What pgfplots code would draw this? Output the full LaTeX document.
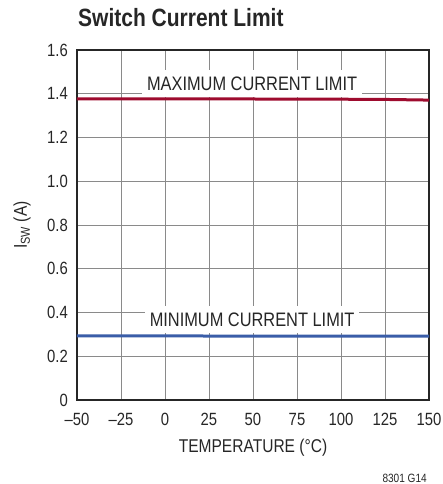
\documentclass[border=0pt]{standalone}
\usepackage{pgfplots}
\pgfplotsset{compat=1.18}
\usepackage{fontspec}
\setmainfont{Liberation Sans}[FakeStretch=0.84]
\definecolor{maxred}{HTML}{9E0B2E}
\definecolor{minblue}{HTML}{3A5DA8}
\definecolor{gridgray}{HTML}{8A8A8A}
\begin{document}
\begin{tikzpicture}[x=1pt,y=1pt]
\begin{axis}[
  at={(0pt,0pt)}, anchor=south west,
  scale only axis, width=352pt, height=350pt,
  xmin=-50, xmax=150, ymin=0, ymax=1.6,
  xtick={-50,-25,0,25,50,75,100,125,150},
  xticklabels={–50,–25,0,25,50,75,100,125,150},
  ytick={0,0.2,0.4,0.6,0.8,1.0,1.2,1.4,1.6},
  yticklabels={0,0.2,0.4,0.6,0.8,1.0,1.2,1.4,1.6},
  major tick length=0pt,
  grid=major,
  major grid style={draw=gridgray, line width=0.9pt},
  axis line style={draw=black!85, line width=1.4pt},
  tick label style={font=\fontsize{17.7}{20}\selectfont, text=black!85},
  xticklabel style={anchor=base, inner sep=0pt, yshift=-25pt},
  yticklabel style={anchor=east, inner sep=0pt, xshift=-9pt},
  xlabel={TEMPERATURE (°C)},
  ylabel={I\textsubscript{SW} (A)},
  label style={font=\fontsize{18.5}{20}\selectfont, text=black!85},
  xlabel style={at={(axis description cs:0.5,0)}, anchor=base, inner sep=0pt, yshift=-52pt},
  ylabel style={at={(axis description cs:-0.156,0.5)}, anchor=center, inner sep=0pt},
  /pgf/number format/assume math mode=true,
  clip=false,
]
\node[fill=white, inner xsep=5pt, inner ysep=0pt, minimum height=27pt, font=\fontsize{19.5}{20}\selectfont, text=black!85] at (axis cs:49.5,1.447) {MAXIMUM CURRENT LIMIT};
\node[fill=white, inner xsep=5pt, inner ysep=0pt, minimum height=27pt, font=\fontsize{19.5}{20}\selectfont, text=black!85] at (axis cs:49.5,0.366) {MINIMUM CURRENT LIMIT};
\addplot[maxred, line width=3pt] coordinates {(-50,1.377) (0,1.377) (50,1.376) (100,1.375) (125,1.374) (150,1.371)};
\addplot[minblue, line width=3pt] coordinates {(-50,0.293) (0,0.293) (50,0.292) (100,0.292) (150,0.292)};
\end{axis}
\node[anchor=base west, inner sep=0pt, font=\fontsize{25}{28}\bfseries\selectfont, text=black!85] at (1pt,373pt) {Switch Current Limit};
\node[anchor=base east, inner sep=0pt, font=\fontsize{12}{14}\selectfont, text=black!85] at (350pt,-82pt) {8301 G14};
\path[use as bounding box] (-77pt,-84pt) rectangle (365pt,400pt);
\end{tikzpicture}
\end{document}
